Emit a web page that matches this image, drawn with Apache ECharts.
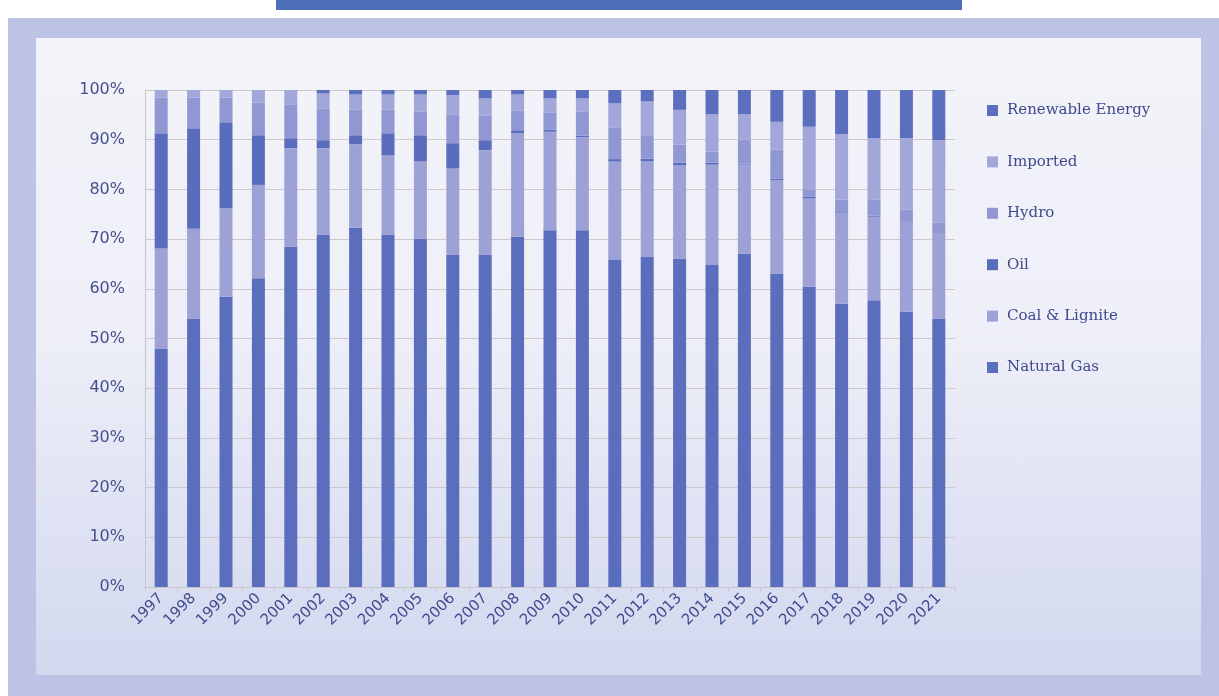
<!DOCTYPE html>
<html>
<head>
<meta charset="utf-8">
<script src="https://cdn.jsdelivr.net/npm/echarts@6/dist/echarts.min.js"></script>
<style>
  html, body { margin: 0; padding: 0; width: 1219px; height: 696px; background: #ffffff; overflow: hidden; }
  #frame { position: absolute; left: 8px; top: 18px; width: 1211px; height: 678px; background: #bcc3e4; }
  #topbar { position: absolute; left: 276px; top: 0; width: 686px; height: 10px; background: #4d6fb8; }
  #panel { position: absolute; left: 36px; top: 38px; width: 1165px; height: 637px;
           background: linear-gradient(to bottom, #f3f3f9 0%, #eeeff8 45%, #d3d8ef 100%); }
  #chart { position: absolute; left: 0; top: 0; width: 1219px; height: 696px; }
</style>
</head>
<body>
<div id="frame"></div>
<div id="topbar"></div>
<div id="panel"></div>
<div id="chart"></div>
<script>
const years = ['1997','1998','1999','2000','2001','2002','2003','2004','2005','2006','2007','2008','2009','2010','2011','2012','2013','2014','2015','2016','2017','2018','2019','2020','2021'];
const naturalGas = [48.0,54.0,58.4,62.1,68.5,70.8,72.3,70.8,70.1,66.8,66.8,70.5,71.8,71.8,65.8,66.4,66.1,64.8,67.1,63.1,60.4,57.0,57.7,55.4,54.0];
const coalLignite = [20.1,18.1,17.8,18.8,19.8,17.5,16.8,16.1,15.6,17.4,21.1,20.8,19.8,18.7,19.8,19.3,18.8,20.2,17.9,18.8,17.8,18.2,16.8,18.1,17.1];
const oil = [23.2,20.2,17.3,10.0,2.0,1.6,1.8,4.4,5.2,5.1,2.0,0.6,0.4,0.3,0.5,0.5,0.5,0.4,0.2,0.3,0.3,0.2,0.2,0.1,0.1];
const hydro = [7.2,6.2,5.0,6.6,6.7,6.4,5.2,4.8,4.7,5.8,5.0,4.0,3.5,4.8,6.4,4.7,3.6,2.2,4.8,5.8,1.5,2.5,3.2,2.3,2.1];
const imported = [1.5,1.5,1.5,2.5,3.0,3.0,3.0,3.0,3.5,3.9,3.4,3.2,2.8,2.7,4.8,6.8,7.0,7.5,5.1,5.6,12.6,13.2,12.4,14.4,16.6];
const renewable = [0.0,0.0,0.0,0.0,0.0,0.7,0.9,0.9,0.9,1.0,1.7,0.9,1.7,1.7,2.7,2.3,4.0,4.9,4.9,6.4,7.4,8.9,9.7,9.7,10.1];
const seriesNames = ['Natural Gas','Coal & Lignite','Oil','Hydro','Imported','Renewable Energy'];
const legendOrder = ['Renewable Energy','Imported','Hydro','Oil','Coal & Lignite','Natural Gas'];

const colors = {
  'Natural Gas': '#5b6ebe',
  'Coal & Lignite': '#9da1d6',
  'Oil': '#5a6dbd',
  'Hydro': '#9197d2',
  'Imported': '#a2a6d8',
  'Renewable Energy': '#5c6fbe'
};
const dataMap = {
  'Natural Gas': naturalGas,
  'Coal & Lignite': coalLignite,
  'Oil': oil,
  'Hydro': hydro,
  'Imported': imported,
  'Renewable Energy': renewable
};

const chart = echarts.init(document.getElementById('chart'), null, { renderer: 'canvas' });
chart.setOption({
  backgroundColor: 'transparent',
  animation: false,
  grid: { left: 145, right: 264, top: 90, bottom: 109, containLabel: false },
  legend: {
    data: legendOrder,
    orient: 'vertical',
    left: 982,
    top: 98,
    itemGap: 36.4,
    itemWidth: 11,
    itemHeight: 11,
    icon: 'rect',
    textStyle: { fontFamily: 'DejaVu Serif', fontSize: 15, color: '#3e4a8c', padding: [0, 0, 0, 4] }
  },
  xAxis: {
    type: 'category',
    data: years,
    axisLine: { show: true, lineStyle: { color: '#c8c6cc', width: 1 } },
    axisTick: { show: true, alignWithLabel: false, length: 4, lineStyle: { color: '#c8c6cc' } },
    axisLabel: { rotate: 45, interval: 0, fontFamily: 'DejaVu Sans', fontSize: 15, color: '#3f4c8e', margin: 9 }
  },
  yAxis: {
    type: 'value',
    min: 0,
    max: 100,
    interval: 10,
    axisLine: { show: true, lineStyle: { color: '#c8c6cc' } },
    axisTick: { show: false },
    splitLine: { show: true, lineStyle: { color: '#cfc9cb', width: 1 } },
    axisLabel: { formatter: '{value}%', fontFamily: 'DejaVu Sans', fontSize: 16, color: '#45508c', margin: 20 }
  },
  series: seriesNames.map(name => ({
    name: name,
    type: 'bar',
    stack: 'total',
    barWidth: 13,
    itemStyle: { color: colors[name] },
    data: dataMap[name]
  }))
});
</script>
</body>
</html>
